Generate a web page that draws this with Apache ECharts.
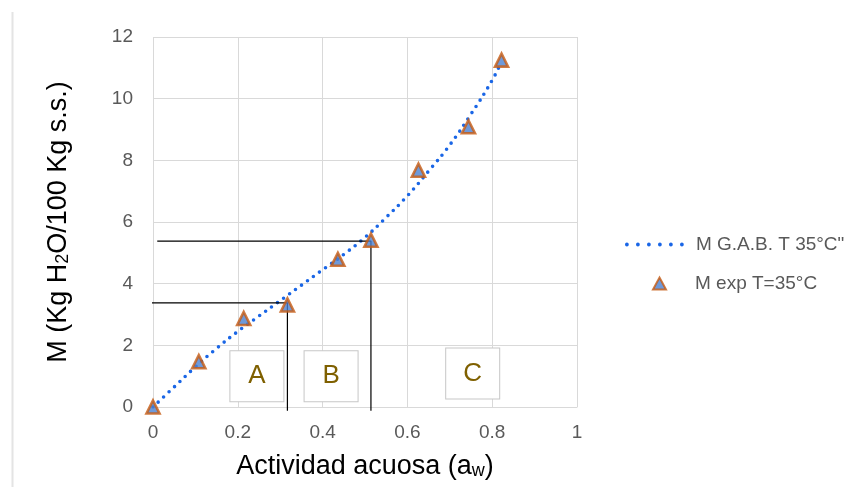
<!DOCTYPE html>
<html>
<head>
<meta charset="utf-8">
<script src="https://cdn.jsdelivr.net/npm/echarts@6/dist/echarts.min.js"></script>
<style>
  html, body { margin: 0; padding: 0; background: #fff; }
  #chart { width: 864px; height: 487px; }
</style>
</head>
<body>
<div id="chart"></div>
<script>
// Sorption isotherm at 35 °C: GAB model curve and experimental points
const gabAw = [0, 0.05, 0.10, 0.15, 0.20, 0.25, 0.30, 0.35, 0.40, 0.45, 0.50, 0.55, 0.60, 0.65, 0.70, 0.75, 0.80, 0.82];
const gabM  = [0, 0.65, 1.30, 1.90, 2.45, 2.95, 3.45, 3.95, 4.45, 4.95, 5.50, 6.15, 6.85, 7.65, 8.50, 9.50, 10.60, 11.15];

const expAw = [0, 0.108, 0.214, 0.317, 0.436, 0.514, 0.626, 0.744, 0.822];
const expM  = [0, 1.47, 2.87, 3.31, 4.79, 5.41, 7.68, 9.09, 11.25];

// Guide lines marking the zone boundaries
const guideLow  = [[-0.01, 3.38], [0.317, 3.38], [0.317, -0.12]];
const guideHigh = [[0.01, 5.38], [0.514, 5.38], [0.514, -0.12]];

// Zone labels and their centres (aw, M)
const zoneNames = ['A', 'B', 'C'];
const zoneAw = [0.245, 0.42, 0.754];
const zoneM  = [1.0, 1.0, 1.09];

const xTicks = { min: 0, max: 1, interval: 0.2 };
const yTicks = { min: 0, max: 12, interval: 2 };

const gabName = 'M G.A.B. T 35°C"';
const expName = 'M exp T=35°C';

const FONT = 'Liberation Sans, Arial, sans-serif';
const chart = echarts.init(document.getElementById('chart'));

const subStyle = { fontSize: 18, fontFamily: FONT, color: '#000', verticalAlign: 'bottom', padding: [7, 0, 0, 0] };
const legendDots = { type: [0, 11], width: 3.8, cap: 'round', color: '#1a66e6' };

chart.setOption({
  backgroundColor: '#ffffff',
  animation: false,
  grid: { left: 153, right: 287, top: 37, bottom: 80 },
  xAxis: {
    type: 'value',
    min: xTicks.min, max: xTicks.max, interval: xTicks.interval,
    axisLine: { show: true, lineStyle: { color: '#d9d9d9', width: 1 } },
    axisTick: { show: false },
    splitLine: { lineStyle: { color: '#d9d9d9', width: 1 } },
    axisLabel: { color: '#595959', fontSize: 19, fontFamily: FONT, margin: 16 },
    name: 'Actividad acuosa (a{s|w})',
    nameLocation: 'middle',
    nameGap: 46,
    nameTextStyle: { color: '#000', fontSize: 27, fontFamily: FONT, rich: { s: subStyle } }
  },
  yAxis: {
    type: 'value',
    min: yTicks.min, max: yTicks.max, interval: yTicks.interval,
    axisLine: { show: false },
    axisTick: { show: false },
    splitLine: { lineStyle: { color: '#d9d9d9', width: 1 } },
    axisLabel: { color: '#595959', fontSize: 19, fontFamily: FONT, margin: 20 },
    name: 'M (Kg H{s|2}O/100 Kg s.s.)',
    nameLocation: 'middle',
    nameRotate: 90,
    nameGap: 81,
    nameTextStyle: { color: '#000', fontSize: 27, fontFamily: FONT, rich: { s: subStyle } }
  },
  legend: [
    {
      data: [{ name: gabName, lineStyle: legendDots }],
      left: 620, top: 230,
      itemWidth: 58, itemHeight: 14,
      textStyle: { color: '#595959', fontSize: 19, fontFamily: FONT, padding: [0, 0, 0, 6] },
      itemStyle: { color: 'rgba(0,0,0,0)', borderWidth: 0, opacity: 0 },
      lineStyle: legendDots
    },
    {
      data: [{ name: expName, icon: 'triangle' }],
      left: 647, top: 269,
      itemWidth: 13, itemHeight: 12,
      textStyle: { color: '#595959', fontSize: 19, fontFamily: FONT, padding: [0, 0, 0, 24] }
    }
  ],
  graphic: [
    {
      type: 'line',
      shape: { x1: 12.5, y1: 12, x2: 12.5, y2: 487 },
      style: { stroke: '#e4e4e4', lineWidth: 2 },
      silent: true
    }
  ],
  series: [
    {
      name: gabName,
      type: 'line',
      smooth: true,
      symbol: 'none',
      data: gabAw.map((a, i) => [a, gabM[i]]),
      lineStyle: { color: '#1a66e6', width: 3.6, type: [0, 7.4], cap: 'round' },
      itemStyle: { color: '#1a66e6' },
      z: 2
    },
    {
      name: 'guideLow',
      type: 'line',
      symbol: 'none',
      clip: false,
      data: guideLow,
      lineStyle: { color: '#000', width: 1.2 },
      silent: true,
      z: 3
    },
    {
      name: 'guideHigh',
      type: 'line',
      symbol: 'none',
      clip: false,
      data: guideHigh,
      lineStyle: { color: '#000', width: 1.2 },
      silent: true,
      z: 3
    },
    {
      name: expName,
      type: 'scatter',
      symbol: 'triangle',
      symbolSize: 13,
      data: expAw.map((a, i) => [a, expM[i]]),
      itemStyle: { color: '#4a7fd0', borderColor: '#c55a11', borderWidth: 2.6 },
      clip: false,
      z: 5,
      markPoint: {
        symbol: 'rect',
        symbolSize: [54, 51],
        silent: true,
        itemStyle: { color: '#ffffff', borderColor: '#c8c8c8', borderWidth: 1 },
        label: { show: true, position: 'inside', color: '#7f6000', fontSize: 26, fontFamily: FONT },
        data: zoneNames.map((n, i) => ({ name: n, coord: [zoneAw[i], zoneM[i]], value: n, label: { formatter: n } }))
      }
    }
  ]
});
</script>
</body>
</html>
